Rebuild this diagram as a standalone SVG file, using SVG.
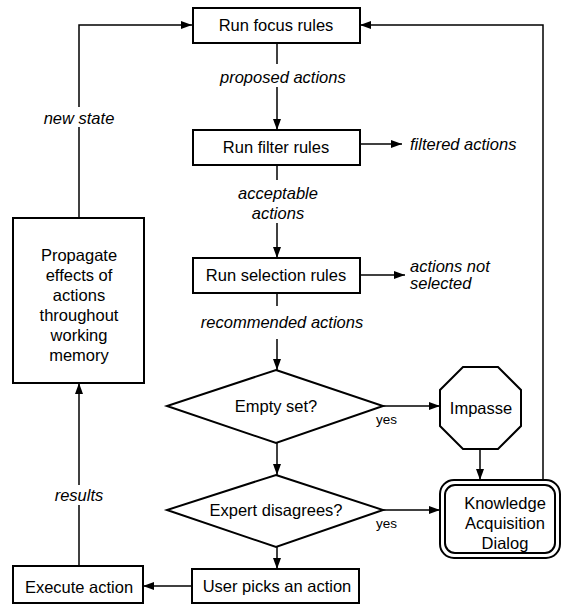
<svg xmlns="http://www.w3.org/2000/svg" width="561" height="605" viewBox="0 0 561 605">
<defs>
<style>
.box{fill:#fff;stroke:#000;stroke-width:2}
.t{font-family:"Liberation Sans",Arial,sans-serif;font-size:16.5px;fill:#000;text-anchor:middle}
.l{font-family:"Liberation Sans",Arial,sans-serif;font-size:16.5px;font-style:italic;fill:#000}
.y{font-family:"Liberation Sans",Arial,sans-serif;font-size:13.5px;fill:#000}
.c{fill:none;stroke:#000;stroke-width:1.5}
.a{marker-end:url(#ah)}
</style>
<marker id="ah" markerUnits="userSpaceOnUse" markerWidth="12" markerHeight="10" refX="11" refY="4" orient="auto">
<path d="M0,0 L11,4 L0,8 z" fill="#000"/>
</marker>
</defs>
<rect width="561" height="605" fill="#fff"/>
<g id="connectors">
<line class="c" x1="277" y1="43" x2="277" y2="64"/>
<line class="c a" x1="277" y1="87" x2="277" y2="130"/>
<text class="l" x="220" y="83">proposed actions</text>
<line class="c a" x1="360" y1="144" x2="402" y2="144"/>
<text class="l" x="410" y="150">filtered actions</text>
<line class="c" x1="277" y1="165" x2="277" y2="180"/>
<line class="c a" x1="277" y1="223" x2="277" y2="258"/>
<text class="l" x="278" y="199" text-anchor="middle">acceptable</text>
<text class="l" x="278" y="219" text-anchor="middle">actions</text>
<line class="c a" x1="360" y1="275" x2="405" y2="275"/>
<text class="l" x="410" y="272">actions not</text>
<text class="l" x="410" y="289">selected</text>
<line class="c" x1="277" y1="293" x2="277" y2="306"/>
<line class="c a" x1="277" y1="339" x2="277" y2="370"/>
<text class="l" x="282" y="328" text-anchor="middle">recommended actions</text>
<line class="c a" x1="277" y1="443" x2="277" y2="475"/>
<line class="c a" x1="383" y1="406" x2="440" y2="406"/>
<text class="y" x="376" y="424">yes</text>
<line class="c a" x1="383" y1="510" x2="440" y2="510"/>
<text class="y" x="376" y="528">yes</text>
<line class="c a" x1="277" y1="547" x2="277" y2="569"/>
<line class="c a" x1="192" y1="586" x2="143" y2="586"/>
<line class="c" x1="79" y1="566" x2="79" y2="505"/>
<line class="c a" x1="79" y1="485" x2="79" y2="383"/>
<text class="l" x="79" y="501" text-anchor="middle">results</text>
<polyline class="c" points="79,218 79,127"/>
<polyline class="c a" points="79,107 79,25 192,25"/>
<text class="l" x="79" y="124" text-anchor="middle">new state</text>
<line class="c a" x1="480" y1="449" x2="480" y2="480"/>
<polyline class="c a" points="543,480 543,25 360,25"/>
</g>
<g id="focus">
<rect class="box" x="193" y="8" width="167" height="35"/>
<text class="t" x="276" y="31">Run focus rules</text>
</g>
<g id="filter">
<rect class="box" x="193" y="130" width="167" height="35"/>
<text class="t" x="276" y="153">Run filter rules</text>
</g>
<g id="selection">
<rect class="box" x="193" y="258" width="167" height="35"/>
<text class="t" x="276" y="281">Run selection rules</text>
</g>
<g id="emptyset">
<polygon class="box" points="276,370 383,406 276,443 167,406"/>
<text class="t" x="276" y="412">Empty set?</text>
</g>
<g id="expert">
<polygon class="box" points="276,475 383,510 276,547 167,510"/>
<text class="t" x="276" y="516">Expert disagrees?</text>
</g>
<g id="userpicks">
<rect class="box" x="192" y="569" width="167" height="34"/>
<text class="t" x="277" y="592">User picks an action</text>
</g>
<g id="execute">
<rect class="box" x="13" y="566" width="130" height="37"/>
<text class="t" x="79" y="593">Execute action</text>
</g>
<g id="propagate">
<rect class="box" x="13" y="218" width="131" height="165"/>
<text class="t" x="79" y="261">Propagate</text>
<text class="t" x="79" y="281">effects of</text>
<text class="t" x="79" y="301">actions</text>
<text class="t" x="79" y="321">throughout</text>
<text class="t" x="79" y="341">working</text>
<text class="t" x="79" y="361">memory</text>
</g>
<g id="impasse">
<polygon class="box" points="463,367 498,367 521,390 521,426 498,449 463,449 440,426 440,390"/>
<text class="t" x="481" y="414">Impasse</text>
</g>
<g id="kadialog">
<rect class="box" x="440" y="480" width="120" height="78" rx="14"/>
<rect class="box" x="445" y="485" width="110" height="68" rx="10"/>
<text class="t" x="505" y="509">Knowledge</text>
<text class="t" x="505" y="529">Acquisition</text>
<text class="t" x="505" y="549">Dialog</text>
</g>
</svg>
